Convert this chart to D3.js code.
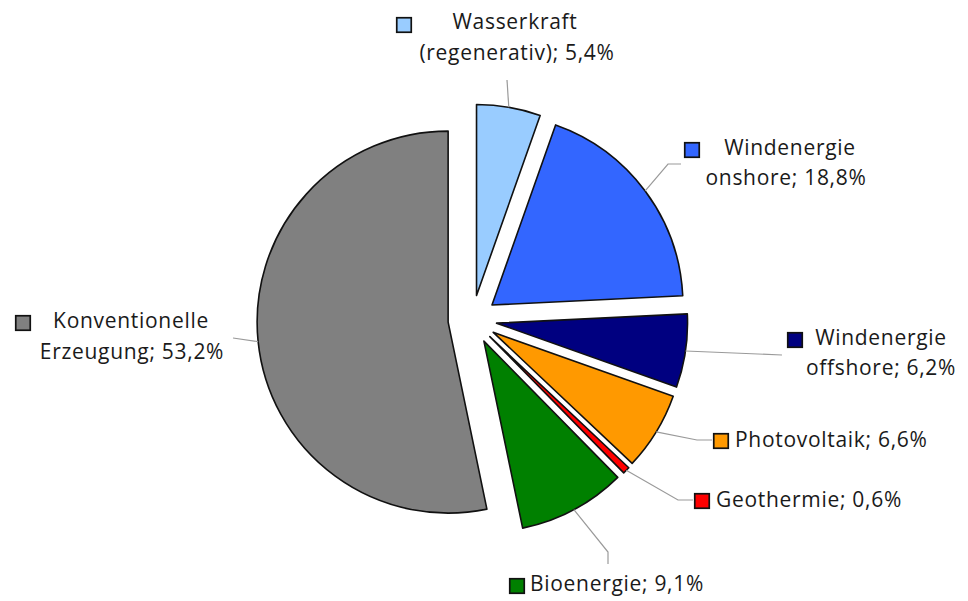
<!DOCTYPE html>
<html><head><meta charset="utf-8">
<script src="https://cdn.jsdelivr.net/npm/d3@7"></script>
<style>body{margin:0;background:#fff}svg{display:block}</style>
</head><body>
<svg id="chart" width="968" height="601"></svg>
<script>
const categories = ["Wasserkraft (regenerativ)", "Windenergie onshore", "Windenergie offshore", "Photovoltaik", "Geothermie", "Bioenergie", "Konventionelle Erzeugung"];
const values = [5.4, 18.8, 6.2, 6.6, 0.6, 9.1, 53.2];
const valueLabels = ["5,4%", "18,8%", "6,2%", "6,6%", "0,6%", "9,1%", "53,2%"];
const labelLines = [
  ["Wasserkraft", "(regenerativ); 5,4%"],
  ["Windenergie", "onshore; 18,8%"],
  ["Windenergie", "offshore; 6,2%"],
  ["Photovoltaik; 6,6%"],
  ["Geothermie; 0,6%"],
  ["Bioenergie; 9,1%"],
  ["Konventionelle", "Erzeugung; 53,2%"]
];
const colors = ["#99CCFF", "#3366FF", "#000080", "#FF9900", "#FF0000", "#008000", "#808080"];

// layout (pixel positions of label boxes and leader elbows)
const layout = [
  {sq:[396,17], lines:[[515,29,"middle"],[517,60,"middle"]], leader:[[507,80]]},
  {sq:[684,142], lines:[[790,155,"middle"],[786,185,"middle"]], leader:[[668,164],[681,164]]},
  {sq:[787,332], lines:[[881,345,"middle"],[881,375,"middle"]], leader:[[782,355]]},
  {sq:[713,433], lines:[[735,447,"start"]], leader:[[697,440],[712,440]]},
  {sq:[694,493], lines:[[716,507,"start"]], leader:[[678,500],[693,500]]},
  {sq:[509,578], lines:[[530,591,"start"]], leader:[[608,552],[608,564]]},
  {sq:[15,315], lines:[[131,328,"middle"],[132,359,"middle"]], leader:[[233,338]]}
];

const svg = d3.select("#chart");
const cx = 472.4, cy = 319.6, r = 191, explode = 24.4;
const data = categories.map((c,i)=>({cat:c, value:values[i], i}));
const pie = d3.pie().sort(null).value(d=>d.value).startAngle(0).endAngle(2*Math.PI);
const arcs = pie(data);
const arc = d3.arc().innerRadius(0).outerRadius(r);

const g = svg.append("g").attr("transform",`translate(${cx},${cy})`);

// leaders
arcs.forEach((a,i)=>{
  const m = (a.startAngle+a.endAngle)/2;
  const ox = explode*Math.sin(m), oy = -explode*Math.cos(m);
  const p0 = [cx+ox+r*Math.sin(m), cy+oy-r*Math.cos(m)];
  const pts = [p0, ...layout[i].leader];
  svg.append("path").attr("d", d3.line()(pts))
    .attr("fill","none").attr("stroke","#9a9a9a").attr("stroke-width",1.2);
});

g.selectAll("path.slice").data(arcs).join("path")
  .attr("class","slice")
  .attr("transform", a=>{const m=(a.startAngle+a.endAngle)/2; return `translate(${explode*Math.sin(m)},${-explode*Math.cos(m)})`;})
  .attr("d", arc)
  .attr("fill",(a,i)=>colors[i])
  .attr("stroke","#111").attr("stroke-width",1.6).attr("stroke-linejoin","round");

// labels
arcs.forEach((a,i)=>{
  const L = layout[i];
  svg.append("rect").attr("x",L.sq[0]+0.75).attr("y",L.sq[1]+0.75).attr("width",14.5).attr("height",14.5)
    .attr("fill",colors[i]).attr("stroke","#111").attr("stroke-width",1.7);
  labelLines[i].forEach((t,j)=>{
    const [x,y,anch] = L.lines[j];
    svg.append("text").attr("x",x).attr("y",y).attr("text-anchor",anch)
      .attr("font-family","'Open Sans', sans-serif").attr("font-size",21)
      .attr("letter-spacing","0.7px")
      .attr("fill","#1a1a1a").text(t);
  });
});
</script>
</body></html>
